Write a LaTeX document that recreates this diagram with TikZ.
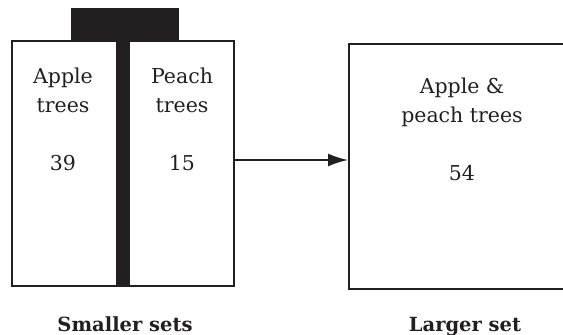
\documentclass[tikz,border=0pt]{standalone}
\usepackage{fontspec}
\setmainfont{DejaVu Serif}
\usetikzlibrary{arrows.meta}
\definecolor{ink}{HTML}{231F20}
\begin{document}
\begin{tikzpicture}[x=1pt,y=-1pt,
  setbox/.style={draw=ink,line width=2pt,fill=white,inner sep=0pt},
  lbl/.style={text=ink,font=\fontsize{20.5}{29}\selectfont,align=center,anchor=base,inner sep=0pt},
  captext/.style={text=ink,font=\fontsize{19.5}{28}\selectfont\bfseries,anchor=base,inner sep=0pt}]
\useasboundingbox (0,0) rectangle (563,335);
% smaller sets box
\node[setbox,minimum width=222pt,minimum height=245pt] (small) at (123,163.5) {};
\fill[ink] (71,8) rectangle (179,41);
\fill[ink] (116,41) rectangle (130,286);
\node[lbl] (apple) at (63,112) {Apple\\trees};
\node[lbl] (n39) at (63,170) {39};
\node[lbl] (peach) at (182,112) {Peach\\trees};
\node[lbl] (n15) at (182,170) {15};
% larger set box
\node[setbox,minimum width=222pt,minimum height=245pt] (large) at (460,166) {};
\node[lbl] (both) at (462,122) {Apple \&\\peach trees};
\node[lbl] (n54) at (462,180) {54};
% captions
\node[captext] (smallcap) at (125,331) {Smaller sets};
\node[captext] (largecap) at (465,331) {Larger set};
% arrow
\draw[ink,line width=2pt,-{Latex[length=20pt,width=13pt]}] (small.east |- 0,160) -- (large.west |- 0,160);
\end{tikzpicture}
\end{document}
